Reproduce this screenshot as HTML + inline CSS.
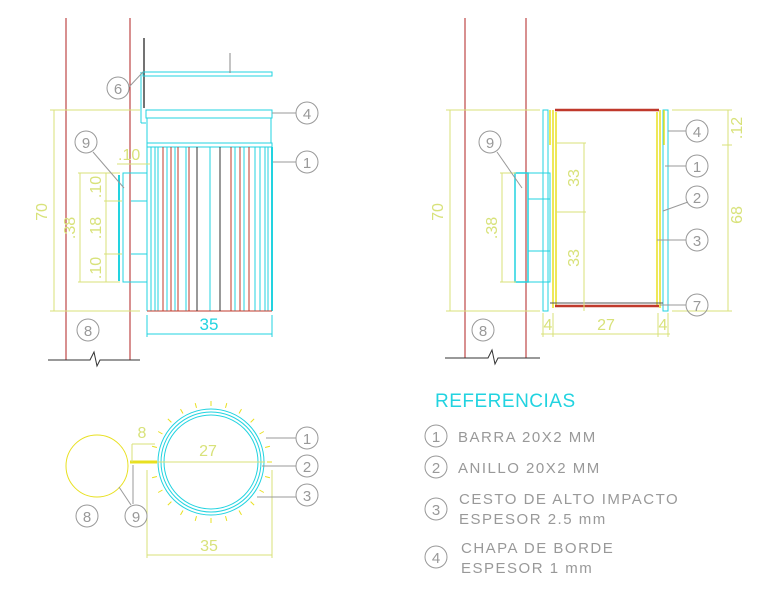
<!DOCTYPE html>
<html><head><meta charset="utf-8"><style>
html,body{margin:0;padding:0;background:#fff;width:764px;height:600px;overflow:hidden}
svg{display:block}
text{font-family:"Liberation Sans",sans-serif}
</style></head><body>
<svg width="764" height="600" viewBox="0 0 764 600" xmlns="http://www.w3.org/2000/svg">
<g fill="none" stroke-width="1">
<!-- LEFT VIEW walls -->
<g stroke="#b22222">
<line x1="66" y1="18" x2="66" y2="360"/><line x1="130" y1="18" x2="130" y2="360"/>
<line x1="603" y1="0" x2="603" y2="0"/>
<line x1="465" y1="18" x2="465" y2="358"/><line x1="526" y1="18" x2="526" y2="358"/>
</g>
<polyline stroke="#333" points="48,360 90,360 94,352 97,366 100,360 140,360"/>
<polyline stroke="#333" points="445,358 488,358 492,350 495,364 498,358 540,358"/>
<!-- lid -->
<line x1="144" y1="38" x2="144" y2="108" stroke="#444" stroke-width="1.5"/>
<g stroke="#22d3e0">
<rect x="143" y="72" width="129" height="4"/>
<line x1="141" y1="72" x2="141" y2="123"/>
<line x1="141" y1="123" x2="146" y2="123"/>
<rect x="146" y="110" width="126" height="8"/>
<line x1="147" y1="118" x2="147" y2="143"/><line x1="271" y1="118" x2="271" y2="143"/>
<rect x="147" y="143" width="125" height="4"/>
<line x1="147" y1="147" x2="147" y2="311"/>
<line x1="272" y1="147" x2="272" y2="311" stroke-width="2"/>
<line x1="151" y1="147" x2="151" y2="311"/><line x1="155" y1="147" x2="155" y2="311"/>
<line x1="158" y1="147" x2="158" y2="311"/><line x1="167" y1="147" x2="167" y2="311"/>
<line x1="175" y1="147" x2="175" y2="311"/><line x1="186" y1="147" x2="186" y2="311"/>
<line x1="210" y1="147" x2="210" y2="311"/><line x1="235" y1="147" x2="235" y2="311"/>
<line x1="244" y1="147" x2="244" y2="311"/><line x1="255" y1="147" x2="255" y2="311"/>
<line x1="260" y1="147" x2="260" y2="311"/><line x1="265" y1="147" x2="265" y2="311"/>
<line x1="268" y1="147" x2="268" y2="311"/>
</g>
<g stroke="#c0392b">
<line x1="163" y1="147" x2="163" y2="311"/><line x1="171" y1="147" x2="171" y2="311"/>
<line x1="178" y1="147" x2="178" y2="311"/><line x1="189" y1="147" x2="189" y2="311"/>
<line x1="231" y1="147" x2="231" y2="311"/><line x1="240" y1="147" x2="240" y2="311"/>
<line x1="249" y1="147" x2="249" y2="311"/>
<line x1="147" y1="311" x2="272" y2="311"/>
</g>
<g stroke="#333"><line x1="197" y1="147" x2="197" y2="311"/><line x1="220" y1="147" x2="220" y2="311"/></g>
<line x1="230" y1="53" x2="230" y2="73" stroke="#888"/>
<!-- bracket left -->
<g stroke="#22d3e0">
<rect x="123" y="173" width="24" height="109"/>
<line x1="119" y1="175" x2="119" y2="281" stroke-width="2"/>
<line x1="131" y1="201" x2="147" y2="201"/><line x1="131" y1="254" x2="147" y2="254"/>
<line x1="147" y1="334" x2="272" y2="334"/>
<line x1="147" y1="315" x2="147" y2="337"/><line x1="272" y1="315" x2="272" y2="337"/>
</g>
<!-- dims left -->
<g stroke="#d8e27a">
<line x1="54" y1="110" x2="54" y2="311"/>
<line x1="50" y1="110" x2="140" y2="110"/><line x1="50" y1="311" x2="140" y2="311"/>
<line x1="80" y1="173" x2="80" y2="282"/><line x1="106" y1="173" x2="106" y2="282"/>
<line x1="78" y1="173" x2="120" y2="173"/><line x1="78" y1="282" x2="120" y2="282"/>
<line x1="104" y1="201" x2="122" y2="201"/><line x1="104" y1="254" x2="122" y2="254"/>
<line x1="117" y1="164" x2="150" y2="164"/>
</g>
<g fill="#d8e27a" stroke="none" font-size="16">
<text transform="translate(47,212) rotate(-90)" text-anchor="middle">70</text>
<text transform="translate(75,228) rotate(-90)" text-anchor="middle">.38</text>
<text transform="translate(101,187) rotate(-90)" text-anchor="middle">.10</text>
<text transform="translate(101,228) rotate(-90)" text-anchor="middle">.18</text>
<text transform="translate(101,268) rotate(-90)" text-anchor="middle">.10</text>
<text x="118" y="160">.10</text>
</g>
<text x="209" y="330" fill="#22d3e0" font-size="17" text-anchor="middle">35</text>

<!-- RIGHT VIEW -->
<g stroke="#22d3e0">
<rect x="543" y="110" width="5" height="201"/><rect x="663" y="110" width="5" height="201"/>
<rect x="515" y="173" width="13" height="109" stroke-width="1.5"/>
<rect x="528" y="173" width="22" height="26"/><rect x="528" y="199" width="22" height="52"/><rect x="528" y="251" width="22" height="31"/>
</g>
<g stroke="#e8e020" stroke-width="1.5">
<line x1="553" y1="110" x2="553" y2="308"/><line x1="556" y1="112" x2="556" y2="305"/>
<line x1="657" y1="112" x2="657" y2="305"/><line x1="660" y1="110" x2="660" y2="308"/>
<line x1="550" y1="110" x2="550" y2="145"/><line x1="664" y1="110" x2="664" y2="145"/>
</g>
<line x1="555" y1="110" x2="659" y2="110" stroke="#c0392b" stroke-width="2.5"/>
<line x1="555" y1="306" x2="659" y2="306" stroke="#c0392b" stroke-width="2.5"/>
<line x1="550" y1="303" x2="663" y2="303" stroke="#555"/>
<g stroke="#d8e27a">
<line x1="450" y1="110" x2="450" y2="311"/>
<line x1="446" y1="110" x2="540" y2="110"/><line x1="446" y1="311" x2="540" y2="311"/>
<line x1="502" y1="173" x2="502" y2="282"/><line x1="500" y1="173" x2="516" y2="173"/><line x1="500" y1="282" x2="516" y2="282"/>
<line x1="584" y1="143" x2="584" y2="311"/>
<line x1="556" y1="143" x2="586" y2="143"/><line x1="556" y1="212" x2="586" y2="212"/>
<line x1="728" y1="110" x2="728" y2="311"/>
<line x1="672" y1="110" x2="732" y2="110"/><line x1="722" y1="145" x2="732" y2="145"/><line x1="672" y1="311" x2="732" y2="311"/>
<line x1="541" y1="334" x2="670" y2="334"/>
<line x1="543" y1="313" x2="543" y2="337"/><line x1="553" y1="313" x2="553" y2="337"/>
<line x1="658" y1="313" x2="658" y2="337"/><line x1="668" y1="313" x2="668" y2="337"/>
</g>
<g fill="#d8e27a" stroke="none" font-size="16">
<text transform="translate(443,212) rotate(-90)" text-anchor="middle">70</text>
<text transform="translate(497,228) rotate(-90)" text-anchor="middle">.38</text>
<text transform="translate(579,178) rotate(-90)" text-anchor="middle">33</text>
<text transform="translate(579,258) rotate(-90)" text-anchor="middle">33</text>
<text transform="translate(742,215) rotate(-90)" text-anchor="middle">68</text>
<text transform="translate(742,128) rotate(-90)" text-anchor="middle">.12</text>
<text x="548" y="330" text-anchor="middle">4</text>
<text x="606" y="330" text-anchor="middle">27</text>
<text x="663" y="330" text-anchor="middle">4</text>
</g>

<!-- PLAN VIEW -->
<circle cx="97" cy="466" r="31" stroke="#e8e020"/>
<circle cx="211" cy="462" r="53" stroke="#22d3e0"/>
<circle cx="211" cy="462" r="50" stroke="#22d3e0"/>
<circle cx="211" cy="462" r="47" stroke="#22d3e0"/>
<g stroke="#e8e020" id="ticks">
<line x1="211" y1="406" x2="211" y2="401" transform="rotate(0 211 462)"/>
<line x1="211" y1="406" x2="211" y2="401" transform="rotate(15 211 462)"/>
<line x1="211" y1="406" x2="211" y2="401" transform="rotate(30 211 462)"/>
<line x1="211" y1="406" x2="211" y2="401" transform="rotate(45 211 462)"/>
<line x1="211" y1="406" x2="211" y2="401" transform="rotate(60 211 462)"/>
<line x1="211" y1="406" x2="211" y2="401" transform="rotate(75 211 462)"/>
<line x1="211" y1="406" x2="211" y2="401" transform="rotate(90 211 462)"/>
<line x1="211" y1="406" x2="211" y2="401" transform="rotate(105 211 462)"/>
<line x1="211" y1="406" x2="211" y2="401" transform="rotate(120 211 462)"/>
<line x1="211" y1="406" x2="211" y2="401" transform="rotate(135 211 462)"/>
<line x1="211" y1="406" x2="211" y2="401" transform="rotate(150 211 462)"/>
<line x1="211" y1="406" x2="211" y2="401" transform="rotate(165 211 462)"/>
<line x1="211" y1="406" x2="211" y2="401" transform="rotate(180 211 462)"/>
<line x1="211" y1="406" x2="211" y2="401" transform="rotate(195 211 462)"/>
<line x1="211" y1="406" x2="211" y2="401" transform="rotate(210 211 462)"/>
<line x1="211" y1="406" x2="211" y2="401" transform="rotate(225 211 462)"/>
<line x1="211" y1="406" x2="211" y2="401" transform="rotate(240 211 462)"/>
<line x1="211" y1="406" x2="211" y2="401" transform="rotate(255 211 462)"/>
<line x1="211" y1="406" x2="211" y2="401" transform="rotate(270 211 462)"/>
<line x1="211" y1="406" x2="211" y2="401" transform="rotate(285 211 462)"/>
<line x1="211" y1="406" x2="211" y2="401" transform="rotate(300 211 462)"/>
<line x1="211" y1="406" x2="211" y2="401" transform="rotate(315 211 462)"/>
<line x1="211" y1="406" x2="211" y2="401" transform="rotate(330 211 462)"/>
<line x1="211" y1="406" x2="211" y2="401" transform="rotate(345 211 462)"/>
</g>
<line x1="130" y1="462" x2="157" y2="462" stroke="#e8e020" stroke-width="3"/>
<line x1="157" y1="462" x2="265" y2="462" stroke="#d8e27a"/>
<g stroke="#d8e27a">
<line x1="132" y1="444" x2="155" y2="444"/><line x1="132" y1="444" x2="132" y2="462"/>
<line x1="147" y1="555" x2="272" y2="555"/>
<line x1="147" y1="470" x2="147" y2="558"/><line x1="272" y1="470" x2="272" y2="558"/>
</g>
<g fill="#d8e27a" stroke="none" font-size="16">
<text x="142" y="438" text-anchor="middle">8</text>
<text x="208" y="456" text-anchor="middle">27</text>
<text x="209" y="551" text-anchor="middle">35</text>
</g>

<!-- leaders -->
<g stroke="#999">
<line x1="129" y1="87" x2="143" y2="72"/>
<line x1="272" y1="113" x2="296" y2="113"/>
<line x1="273" y1="162" x2="296" y2="162"/>
<line x1="93" y1="152" x2="124" y2="188"/>
<line x1="497" y1="152" x2="522" y2="188"/>
<line x1="668" y1="131" x2="686" y2="131"/>
<line x1="665" y1="166" x2="686" y2="166"/>
<line x1="663" y1="211" x2="688" y2="202"/>
<line x1="657" y1="240" x2="686" y2="240"/>
<line x1="660" y1="305" x2="686" y2="305"/>
<line x1="266" y1="438" x2="296" y2="438"/>
<line x1="262" y1="466" x2="296" y2="466"/>
<line x1="257" y1="497" x2="296" y2="497"/>
<line x1="119" y1="487" x2="131" y2="505"/>
<line x1="133" y1="465" x2="133" y2="504"/>
</g>
<!-- balloons -->
<g stroke="#999">
<circle cx="118" cy="88" r="11"/><circle cx="307" cy="113" r="11"/><circle cx="307" cy="162" r="11"/>
<circle cx="86" cy="142" r="11"/><circle cx="88" cy="330" r="11"/>
<circle cx="490" cy="142" r="11"/><circle cx="483" cy="330" r="11"/>
<circle cx="697" cy="131" r="11"/><circle cx="697" cy="166" r="11"/><circle cx="697" cy="197" r="11"/>
<circle cx="697" cy="240" r="11"/><circle cx="697" cy="305" r="11"/>
<circle cx="307" cy="438" r="11"/><circle cx="307" cy="466" r="11"/><circle cx="307" cy="495" r="11"/>
<circle cx="87" cy="516" r="11"/><circle cx="136" cy="516" r="11"/>
<circle cx="436" cy="436" r="11"/><circle cx="436" cy="467" r="11"/><circle cx="436" cy="509" r="11"/><circle cx="436" cy="557" r="11"/>
</g>
<g fill="#999" stroke="none" font-size="15" text-anchor="middle">
<text x="118" y="94">6</text><text x="307" y="119">4</text><text x="307" y="168">1</text>
<text x="86" y="148">9</text><text x="88" y="336">8</text>
<text x="490" y="148">9</text><text x="483" y="336">8</text>
<text x="697" y="137">4</text><text x="697" y="172">1</text><text x="697" y="203">2</text>
<text x="697" y="246">3</text><text x="697" y="311">7</text>
<text x="307" y="444">1</text><text x="307" y="472">2</text><text x="307" y="501">3</text>
<text x="87" y="522">8</text><text x="136" y="522">9</text>
<text x="436" y="442">1</text><text x="436" y="473">2</text><text x="436" y="515">3</text><text x="436" y="563">4</text>
</g>
<g fill="#999" stroke="none" font-size="15" letter-spacing="1.5">
<text x="458" y="442">BARRA  20X2  MM</text>
<text x="458" y="473">ANILLO  20X2  MM</text>
<text x="459" y="504">CESTO  DE  ALTO  IMPACTO</text>
<text x="459" y="524">ESPESOR  2.5  mm</text>
<text x="461" y="553">CHAPA  DE  BORDE</text>
<text x="461" y="573">ESPESOR  1  mm</text>
</g>
<text x="435" y="407" fill="#22d3e0" font-size="19" letter-spacing="0.5">REFERENCIAS</text>
</g>
</svg>
</body></html>
